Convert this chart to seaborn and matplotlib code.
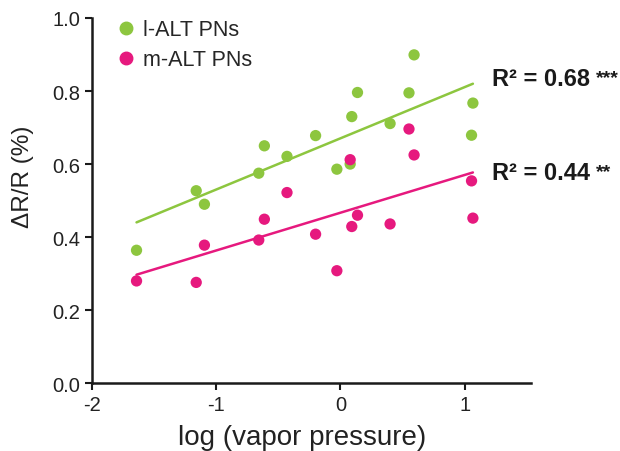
import numpy as np
import pandas as pd
import seaborn as sns
import matplotlib
matplotlib.use("Agg")
import matplotlib.pyplot as plt

# log vapor pressure for each odor (shared by both groups)
log_vp = [-1.64, -1.16, -1.094, -0.657, -0.612, -0.43, -0.20, -0.029,
          0.078, 0.091, 0.137, 0.399, 0.551, 0.592, 1.054, 1.065]
# l-ALT PNs response
lalt = [0.364, 0.527, 0.490, 0.575, 0.650, 0.621, 0.678, 0.586,
        0.600, 0.730, 0.796, 0.711, 0.795, 0.899, 0.679, 0.767]
# m-ALT PNs response
malt = [0.280, 0.276, 0.378, 0.392, 0.449, 0.522, 0.408, 0.308,
        0.612, 0.429, 0.460, 0.436, 0.696, 0.625, 0.554, 0.452]
groups = ["l-ALT PNs", "m-ALT PNs"]
r2_labels = ["R\u00b2 = 0.68", "R\u00b2 = 0.44"]
stars = ["***", "**"]
colors = ["#8dc63f", "#e6197e"]

df = pd.DataFrame({
    "x": log_vp * 2,
    "y": lalt + malt,
    "group": [groups[0]] * len(lalt) + [groups[1]] * len(malt),
})

sns.set_style("ticks")
plt.rcParams["font.family"] = ["Liberation Sans", "DejaVu Sans"]
plt.rcParams["axes.unicode_minus"] = False

fig = plt.figure(figsize=(6.2, 4.52), dpi=100)
ax = fig.add_axes([0.148, 0.150, 0.708, 0.808])

for g, c in zip(groups, colors):
    sub = df[df["group"] == g]
    sns.regplot(data=sub, x="x", y="y", ax=ax, ci=None, truncate=True,
                scatter_kws=dict(s=66, color=c, edgecolor="none", alpha=1, zorder=3),
                line_kws=dict(color=c, lw=1.8, zorder=2), label=g)

ax.set_xlim(-2, 1.53)
ax.set_ylim(0, 1.0)
ax.set_xticks([-2, -1, 0, 1])
ax.set_yticks([0, 0.2, 0.4, 0.6, 0.8, 1.0])
ax.set_yticklabels([f"{v:.1f}" for v in [0, 0.2, 0.4, 0.6, 0.8, 1.0]])
ax.tick_params(labelsize=14.5, length=5, width=1.5, colors="#1a1a1a", labelcolor="#222222")
for s in ["left", "bottom"]:
    ax.spines[s].set_linewidth(1.8)
    ax.spines[s].set_color("#1a1a1a")
sns.despine(ax=ax)
ax.set_xlabel("log (vapor pressure)", fontsize=20, color="#222222")
ax.set_ylabel("\u0394R/R (%)", fontsize=17.5, color="#222222")
ax.xaxis.set_label_coords((303 - 92) / 439.7, -(438 - 384) / 365, transform=ax.transAxes)
ax.xaxis.label.set_va("center")
ax.yaxis.set_label_coords(-(92 - 23) / 439.7, (384 - 177) / 365, transform=ax.transAxes)
ax.yaxis.label.set_va("center")

handles = [plt.Line2D([], [], marker="o", ls="none", color=c, markersize=9) for c in colors]
ax.legend(handles, groups, loc="upper left", bbox_to_anchor=(0.035, 1.02), frameon=False,
          fontsize=15.5, handletextpad=0.25, labelspacing=0.42, handlelength=1.0,
          borderaxespad=0)

ypos = [80, 174]
for lab, st, yp in zip(r2_labels, stars, ypos):
    t = fig.text(492 / 620, 1 - yp / 452, lab, fontsize=17, fontweight="bold",
                 va="center", ha="left", color="#1a1a1a")
    ax.annotate(st, xy=(1, 1), xycoords=t, xytext=(4, -1), textcoords="offset points",
                fontsize=14, fontweight="bold", va="top", ha="left", color="#1a1a1a",
                annotation_clip=False)

fig.savefig("out.png", dpi=100)
